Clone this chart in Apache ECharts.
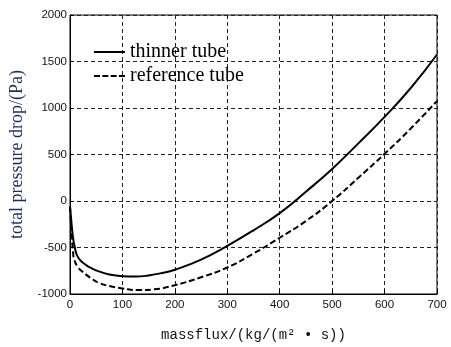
<!DOCTYPE html>
<html>
<head>
<meta charset="utf-8">
<script src="https://cdn.jsdelivr.net/npm/echarts@6/dist/echarts.min.js"></script>
<style>
  html, body { margin: 0; padding: 0; background: #fff; }
  #chart { width: 451px; height: 347px; }
</style>
</head>
<body>
<div id="chart"></div>
<script>
// readings: [massflux, pressure drop]
const thinnerX = [0, 2, 4.5, 7, 9, 11, 14, 20, 30, 40, 55, 75, 100, 125, 150, 175, 200, 250, 300, 350, 400, 450, 500, 550, 600, 650, 700];
const thinnerY = [-60, -180, -334, -440, -492, -545, -590, -640, -686, -720, -757, -790, -808, -812, -800, -775, -739, -630, -482, -315, -130, 100, 345, 620, 905, 1215, 1575];

const referenceX = [0, 3, 6, 8, 15, 25, 40, 55, 75, 100, 130, 160, 200, 250, 300, 350, 400, 450, 500, 550, 600, 650, 700];
const referenceY = [-60, -350, -560, -630, -710, -765, -830, -880, -915, -940, -958, -950, -905, -820, -715, -565, -395, -215, 0, 250, 507, 780, 1075];

const seriesNames = ['thinner tube', 'reference tube'];

const zip = (xs, ys) => xs.map((x, i) => [x, ys[i]]);

const chart = echarts.init(document.getElementById('chart'));

// MATLAB-ish dashed grid
const gridLine = { show: true, lineStyle: { color: '#222', width: 1, type: [4, 3] } };
const tickFont = { color: '#111', fontFamily: 'Liberation Sans', fontSize: 11.5, formatter: v => String(v) };

// legend keys drawn as plain bars (solid / dashed), no marker dot
const solidKey = 'path://M0,0H31V2H0Z';
const dashedKey = 'path://M0,0H6V2H0Z M8.3,0H14.3V2H8.3Z M16.6,0H22.6V2H16.6Z M24.9,0H30.9V2H24.9Z';

const option = {
    animation: false,
    backgroundColor: '#fff',
    grid: {
        left: 69, right: 14, top: 15, bottom: 47,
        show: true, borderColor: '#000', borderWidth: 1,
    },
    legend: {
        orient: 'vertical',
        left: 89,
        top: 37,
        itemWidth: 31,
        itemHeight: 2,
        itemGap: 4,
        textStyle: { color: '#000', fontFamily: 'Liberation Serif', fontSize: 20 },
        data: [
            { name: seriesNames[0], icon: solidKey, itemStyle: { color: '#000' } },
            { name: seriesNames[1], icon: dashedKey, itemStyle: { color: '#000' } },
        ],
    },
    xAxis: {
        type: 'value',
        min: 0, max: 700, interval: 100,
        name: 'massflux/(kg/(m² • s))',
        nameLocation: 'middle',
        nameGap: 34,
        nameTextStyle: { color: '#111', fontFamily: 'Liberation Mono', fontSize: 14 },
        axisLine: { show: true, onZero: false, lineStyle: { color: '#000', width: 1 } },
        axisTick: { show: true, inside: true, length: 4, lineStyle: { color: '#000' } },
        axisLabel: { ...tickFont, margin: 5 },
        splitLine: gridLine,
    },
    yAxis: {
        type: 'value',
        min: -1000, max: 2000, interval: 500,
        name: 'total pressure drop/(Pa)',
        nameLocation: 'middle',
        nameGap: 44,
        nameTextStyle: { color: '#1f2d5c', fontFamily: 'Liberation Serif', fontSize: 18 },
        axisLine: { show: true, onZero: false, lineStyle: { color: '#000', width: 1 } },
        axisTick: { show: true, inside: true, length: 4, lineStyle: { color: '#000' } },
        axisLabel: { ...tickFont, margin: 3 },
        splitLine: gridLine,
    },
    series: [
        {
            name: seriesNames[0],
            type: 'line',
            data: zip(thinnerX, thinnerY),
            smooth: 0.5,
            symbol: 'none',
            lineStyle: { color: '#000', width: 2 },
            itemStyle: { color: '#000' },
        },
        {
            name: seriesNames[1],
            type: 'line',
            data: zip(referenceX, referenceY),
            smooth: 0.5,
            symbol: 'none',
            lineStyle: { color: '#000', width: 2, type: [6, 3] },
            itemStyle: { color: '#000' },
        },
    ],
};

chart.setOption(option);
</script>
</body>
</html>
